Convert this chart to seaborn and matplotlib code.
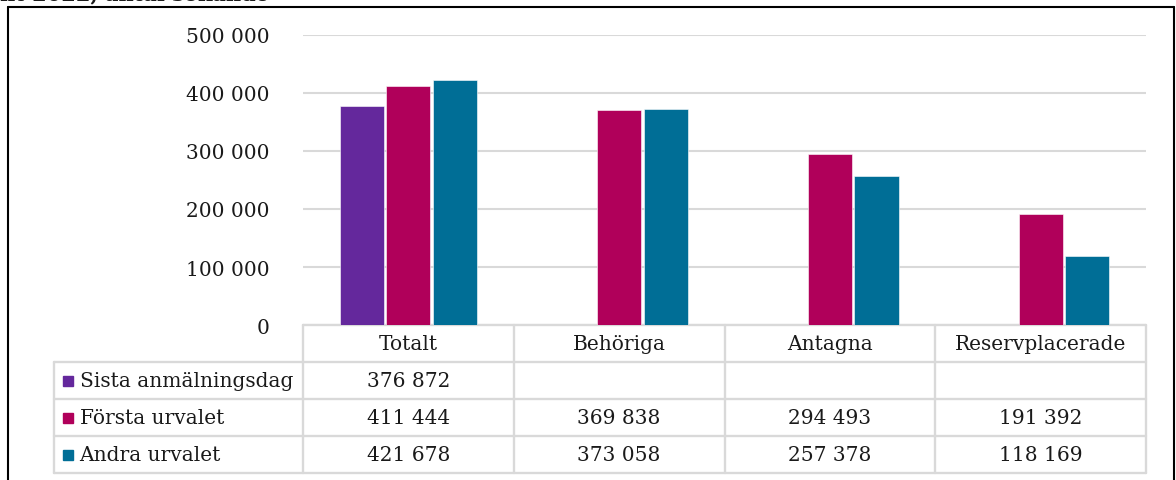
import pandas as pd
import seaborn as sns
import matplotlib.pyplot as plt
from matplotlib.lines import Line2D
from matplotlib.transforms import blended_transform_factory
import numpy as np

# Data
categories = ['Totalt', 'Behöriga', 'Antagna', 'Reservplacerade']
series = ['Sista anmälningsdag', 'Första urvalet', 'Andra urvalet']
sista = [376872, np.nan, np.nan, np.nan]
forsta = [411444, 369838, 294493, 191392]
andra = [421678, 373058, 257378, 118169]
colors = ['#64289c', '#b0005a', '#006e96']
yticks = [0, 100000, 200000, 300000, 400000, 500000]

df = pd.DataFrame({
    'kategori': categories * 3,
    'serie': [s for s in series for _ in categories],
    'antal': sista + forsta + andra,
})

sns.set_style('white')
plt.rcParams['font.family'] = ['DejaVu Serif']

fig = plt.figure(figsize=(11.76, 4.81), dpi=100)
ax = fig.add_axes([303 / 1176, 1 - 326 / 481, 843 / 1176, 290 / 481])

sns.barplot(data=df, x='kategori', y='antal', hue='serie', order=categories,
            hue_order=series, palette=colors, saturation=1, width=0.663, gap=0.05,
            edgecolor='white', linewidth=0.4, legend=False, ax=ax, zorder=3)

ax.set_xlim(-0.5, len(categories) - 0.5)
ax.set_ylim(0, 500000)
ax.set_yticks(yticks)
ax.set_yticklabels([f'{v:,}'.replace(',', ' ') for v in yticks], fontsize=14.5, color='#1a1a1a')
ax.tick_params(axis='y', length=0, pad=24)
ax.set_xticks([])
ax.set_xlabel('')
ax.set_ylabel('')
ax.grid(axis='y', color='#d9d9d9', linewidth=1.5, zorder=0)
for s in ax.spines.values():
    s.set_visible(False)

# data table under the plot
tr = blended_transform_factory(ax.transData, ax.transAxes)
row_h = 37 / 290
grid_kw = dict(color='#d9d9d9', linewidth=1.7, transform=tr, clip_on=False)
n = len(categories)
label_left = -1.68
# header row
ax.plot([-0.5, n - 0.5], [0, 0], **grid_kw)
for i, c in enumerate(categories):
    ax.text(i, -row_h / 2, c, transform=tr, ha='center', va='center',
            fontsize=14.5, color='#1a1a1a')
for k in range(n + 1):
    ax.plot([k - 0.5, k - 0.5], [0, -4 * row_h], **grid_kw)
for r in range(1, 5):
    ax.plot([label_left, n - 0.5], [-r * row_h, -r * row_h], **grid_kw)
ax.plot([label_left, label_left], [-row_h, -4 * row_h], **grid_kw)

for r, (name, vals, col) in enumerate(zip(series, [sista, forsta, andra], colors)):
    y = -(r + 1.5) * row_h
    ax.plot([label_left + 0.065], [y], marker='s', markersize=6.5, color=col,
            transform=tr, clip_on=False)
    ax.text(label_left + 0.12, y, name, transform=tr, ha='left', va='center',
            fontsize=14.5, color='#1a1a1a')
    for i, v in enumerate(vals):
        if not np.isnan(v):
            ax.text(i, y, f'{int(v):,}'.replace(',', ' '), transform=tr,
                    ha='center', va='center', fontsize=14.5, color='#1a1a1a')

# outer frame (bottom cut off) and clipped title
x0, x1, yt = 8 / 1176, 1174 / 1176, 1 - 8 / 481
for xs, ys in [([x0, x0], [0, yt]), ([x0, x1], [yt, yt]), ([x1, x1], [yt, 0])]:
    fig.add_artist(Line2D(xs, ys, color='black', linewidth=1.5, transform=fig.transFigure))
fig.text(0.0, 1 - 1.5 / 481, 'ht 2022, antal sökande', fontsize=15, fontweight='bold',
         va='baseline', ha='left', color='#1a1a1a')

fig.savefig('out.png', dpi=100)
